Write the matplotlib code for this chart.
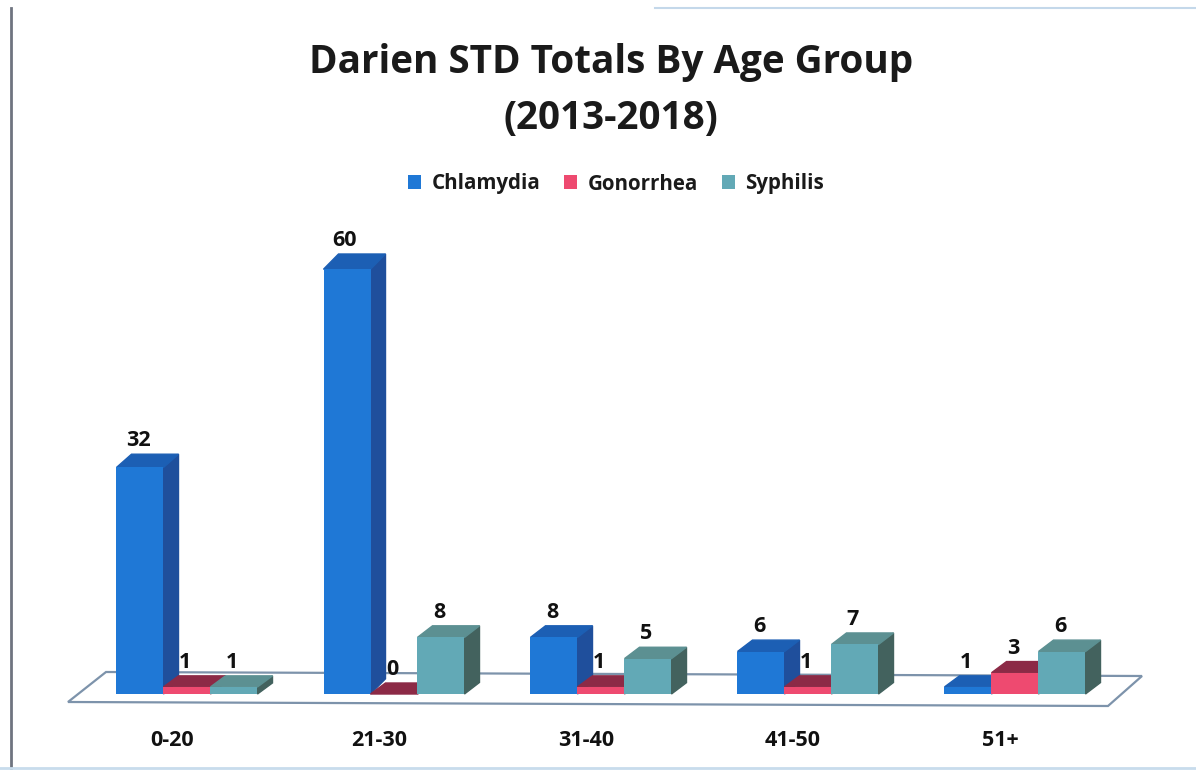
import matplotlib
matplotlib.use("Agg")
import matplotlib.pyplot as plt
from matplotlib.lines import Line2D

age_groups = ["0-20", "21-30", "31-40", "41-50", "51+"]
chlamydia = [32, 60, 8, 6, 1]
gonorrhea = [1, 0, 1, 1, 3]
syphilis = [1, 8, 5, 7, 6]
series_names = ["Chlamydia", "Gonorrhea", "Syphilis"]

# front, top, side
blue = ("#1f78d6", "#1c5fb4", "#1f4f9c")
pink = ("#ee4a70", "#8c2a46", "#74283c")
teal = ("#62a9b6", "#5c9092", "#43625e")

W, H = 1196, 770
plt.rcParams["font.family"] = ["Open Sans", "DejaVu Sans"]
plt.rcParams["font.weight"] = "bold"

fig = plt.figure(figsize=(W / 100, H / 100), dpi=100, facecolor="white")

# asse largo tutta la figura, base delle barre a y=694 px, 207 px tra i gruppi
px_step = 207.0
px_first = 187.0
px_unit = 7.08
px_base = 694.0
px_bottom = 712.0
ax = fig.add_axes([0, (H - px_bottom) / H, 1, px_bottom / H])
ax.set_xlim((0 - px_first) / px_step, (W - px_first) / px_step)
ax.set_ylim((px_base - px_bottom) / px_unit, px_base / px_unit)
for s in ax.spines.values():
    s.set_visible(False)
ax.set_yticks([])


def X(p):
    return (p - px_first) / px_step


def Y(p):
    return (px_base - p) / px_unit


# pavimento
floor_x = [68, 106, 1142, 1108]
floor_y = [702, 672, 676, 706]
ax.fill([X(p) for p in floor_x], [Y(p) for p in floor_y], facecolor="white",
        edgecolor="#7d93ab", linewidth=1.6, zorder=1)

bar_w = 47.0 / px_step
dx = 15.0 / px_step
handles = []
z = 2
for i in range(len(age_groups)):
    for k, (vals, cols) in enumerate(zip([chlamydia, gonorrhea, syphilis], [blue, pink, teal])):
        v = vals[i]
        c = i + (k - 1) * bar_w
        l = c - bar_w / 2
        r = c + bar_w / 2
        dy = (11 + 0.07 * v) / px_unit
        # fianco e faccia superiore, poi il fronte
        ax.fill([r, r + dx, r + dx, r], [0, dy, v + dy, v], color=cols[2], zorder=z)
        ax.fill([l, l + dx, r + dx, r], [v, v + dy, v + dy, v], color=cols[1], zorder=z + 1)
        b = ax.bar(c, v, width=bar_w, color=cols[0], zorder=z + 2)
        if i == 0:
            handles.append(b[0])
        z += 3
        ax.text(c - 2.0 / px_step, v + dy + 3 / px_unit, str(v), ha="center", va="bottom",
                fontsize=15.5, color="#111111", zorder=100)

ax.set_xticks([i - 15.0 / px_step for i in range(len(age_groups))])
ax.set_xticklabels(age_groups, fontsize=15.5, color="#111111")
ax.tick_params(axis="x", length=0, pad=13)

fig.suptitle("Darien STD Totals By Age Group\n(2013-2018)", x=611 / W, y=1 - 43 / H,
             va="top", ha="center", fontsize=27.8, fontweight="bold", color="#1a1a1a",
             linespacing=1.56)

ax.legend(handles, series_names, loc="center", bbox_to_anchor=(616 / W, 1 - 184 / px_bottom),
          bbox_transform=ax.transAxes, ncol=3, frameon=False, fontsize=14.8,
          handlelength=0.65, handleheight=0.65, handletextpad=0.5, columnspacing=1.15,
          labelcolor="#1a1a1a")

# bordi della pagina scansionata
fig.add_artist(Line2D([11 / W, 11 / W], [0, 1 - 8 / H], color="#6f7480", linewidth=2))
fig.add_artist(Line2D([655 / W, 1], [1 - 8 / H, 1 - 8 / H], color="#c4d8ea", linewidth=1.5))
fig.add_artist(Line2D([0, 1], [2 / H, 2 / H], color="#c8dcec", linewidth=2))

fig.savefig("out.png", dpi=100)
